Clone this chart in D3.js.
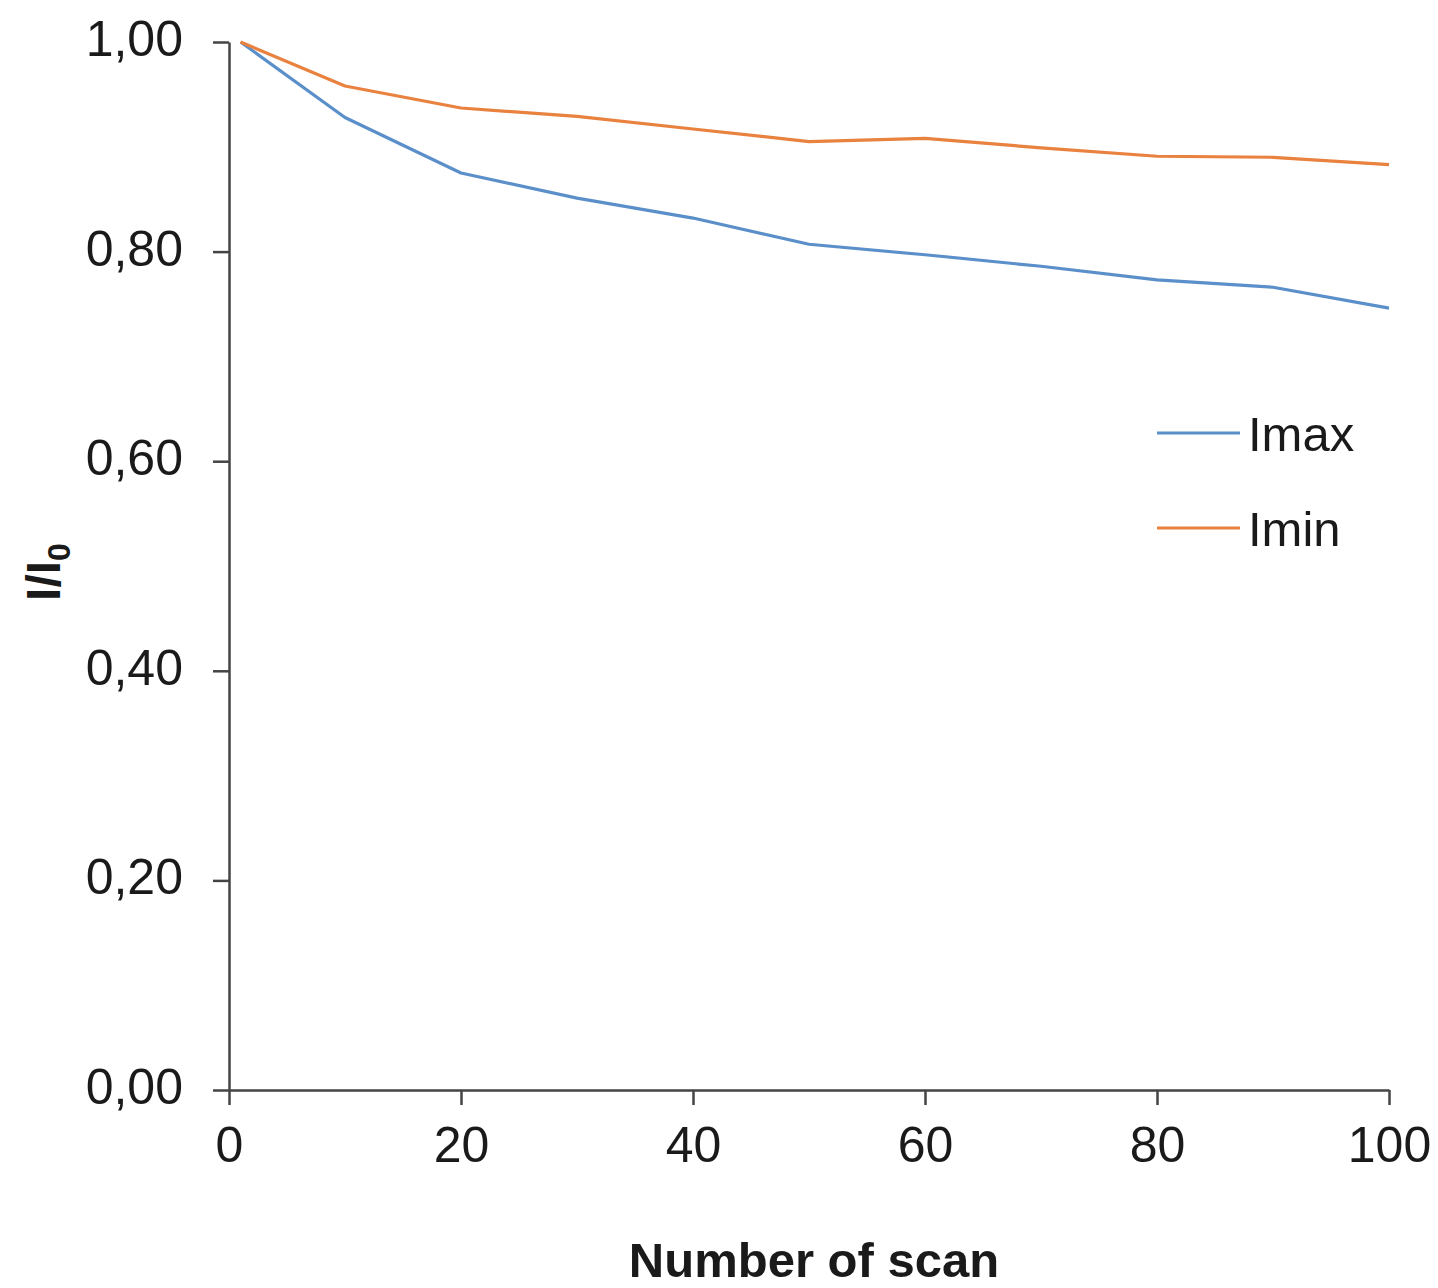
<!DOCTYPE html>
<html>
<head>
<meta charset="utf-8">
<script src="https://cdn.jsdelivr.net/npm/d3@7"></script>
<style>
  body { margin: 0; background: #fff; }
  text { font-family: "Liberation Sans", Arial, sans-serif; fill: #1a1a1a; }
</style>
</head>
<body>
<div id="chart"></div>
<script>
"use strict";

// scan number on x
var scans = [1, 10, 20, 30, 40, 50, 60, 70, 80, 90, 100];
var imaxValues = [1.00, 0.928, 0.875, 0.851, 0.832, 0.807, 0.797, 0.786, 0.773, 0.766, 0.746];
var iminValues = [1.00, 0.958, 0.937, 0.929, 0.917, 0.905, 0.908, 0.899, 0.891, 0.890, 0.883];
var seriesNames = ["Imax", "Imin"];
var seriesColors = ["#5b8fca", "#e9813f"];
var xTicks = [0, 20, 40, 60, 80, 100];
var yTicks = [0, 0.2, 0.4, 0.6, 0.8, 1.0];

function lineChart() {
    var w = 1438;
    var h = 1288;

    var svg = d3.select("#chart")
                .append("svg")
                .attr("width", w)
                .attr("height", h);

    var x = d3.scaleLinear().domain([0, 100]).range([229, 1389]);
    var y = d3.scaleLinear().domain([0, 1]).range([1090, 42]);

    var yAxis = d3.axisLeft(y)
                  .tickValues(yTicks)
                  .tickSize(16)
                  .tickSizeOuter(0)
                  .tickPadding(30)
                  .tickFormat(function(d){
                      return d3.format(".2f")(d).replace(".", ","); //comma decimals
                  });

    var xAxis = d3.axisBottom(x)
                  .tickValues(xTicks)
                  .tickSize(15)
                  .tickSizeOuter(0)
                  .tickPadding(21);

    var gy = svg.append("g")
                .attr("transform", "translate(" + x(0) + ",0)")
                .call(yAxis);

    var gx = svg.append("g")
                .attr("transform", "translate(0," + y(0) + ")")
                .call(xAxis);

    [gx, gy].forEach(function(g){
        g.select(".domain").attr("stroke", "#444").attr("stroke-width", 2.5);
        g.selectAll(".tick line").attr("stroke", "#444").attr("stroke-width", 2.5);
        g.selectAll(".tick text")
         .style("font-family", "'Liberation Sans', Arial, sans-serif")
         .style("font-size", "50px")
         .attr("fill", "#1a1a1a");
    });
    gy.selectAll(".tick text").attr("dy", "0.27em"); //sit a bit above the tick

    var line = d3.line()
                 .x(function(d){ return x(d[0]); })
                 .y(function(d){ return y(d[1]); });

    var allSeries = [imaxValues, iminValues];
    allSeries.forEach(function(vals, i){
        var pts = scans.map(function(s, j){ return [s, vals[j]]; });
        svg.append("path")
           .datum(pts)
           .attr("fill", "none")
           .attr("stroke", seriesColors[i])
           .attr("stroke-width", 3.2)
           .attr("stroke-linejoin", "round")
           .attr("d", line);
    });

    // legend
    var legendY = [433, 528];
    seriesNames.forEach(function(name, i){
        svg.append("line")
           .attr("x1", 1157).attr("x2", 1240)
           .attr("y1", legendY[i]).attr("y2", legendY[i])
           .attr("stroke", seriesColors[i])
           .attr("stroke-width", 3.2);
        svg.append("text")
           .attr("x", 1248)
           .attr("y", legendY[i])
           .attr("dy", "0.36em")
           .style("font-size", "49px")
           .text(name);
    });

    // axis titles
    svg.append("text")
       .attr("x", 814)
       .attr("y", 1277)
       .attr("text-anchor", "middle")
       .style("font-size", "49px")
       .style("font-weight", "bold")
       .text("Number of scan");

    var yt = svg.append("text")
       .attr("transform", "translate(60,572) rotate(-90)")
       .attr("text-anchor", "middle")
       .style("font-size", "48px")
       .style("font-weight", "bold");
    yt.append("tspan").text("I/I");
    yt.append("tspan")
      .attr("dy", "0.3em")
      .style("font-size", "32px")
      .text("0");
}

function init(){
    lineChart();
}

window.onload = init;
</script>
</body>
</html>
